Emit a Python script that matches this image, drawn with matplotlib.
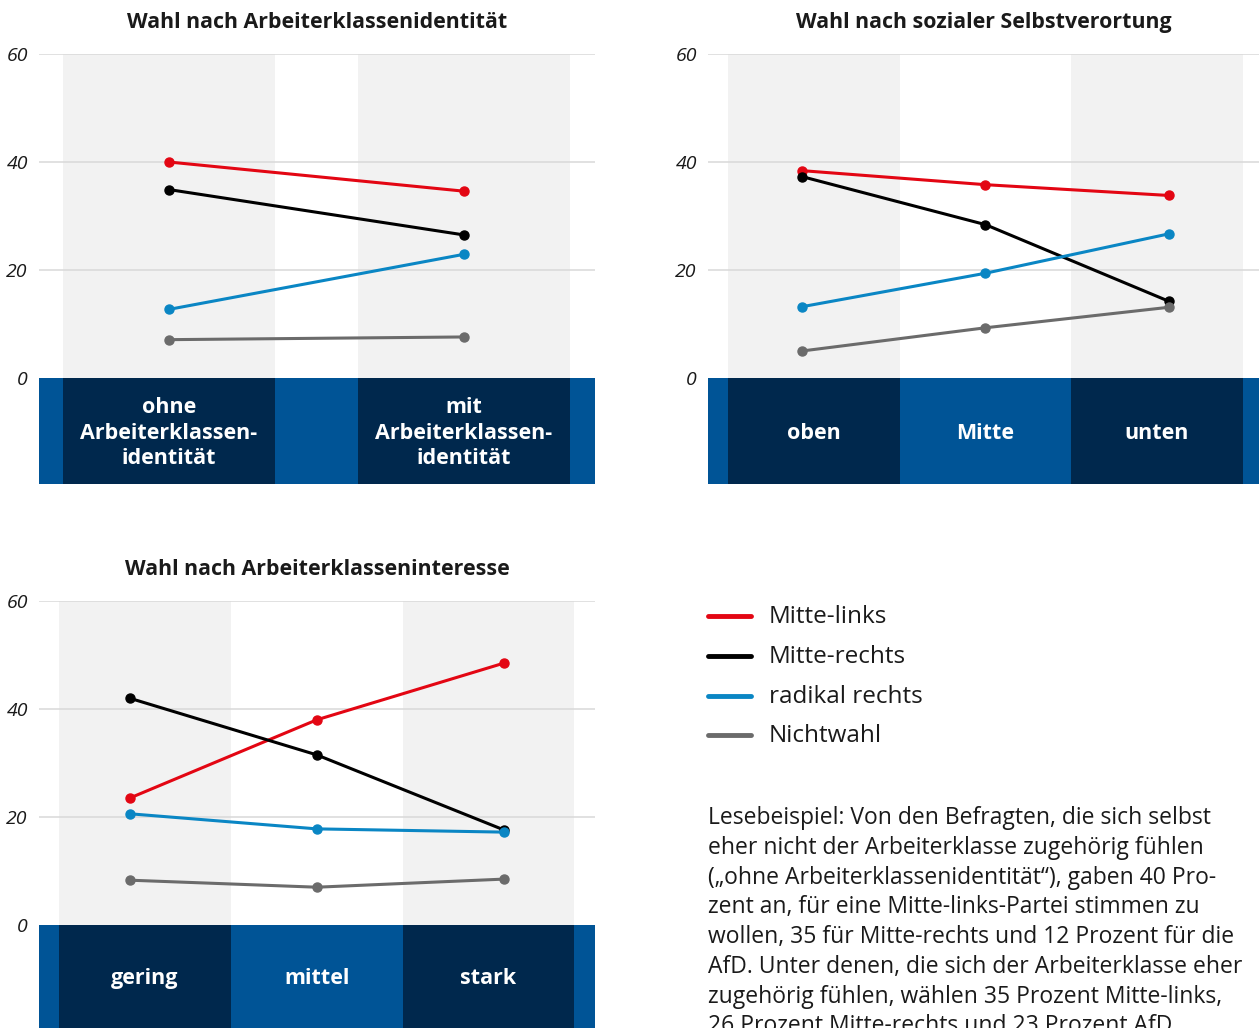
import matplotlib
matplotlib.use("Agg")
import matplotlib.pyplot as plt

plt.rcParams['font.family'] = ['Open Sans', 'DejaVu Sans']

W, H = 1259, 1028

# colours
RED = '#e30613'
BLACK = '#000000'
BLUE = '#0a86c4'
GREY = '#6b6b6b'
NAVY = '#00284d'
MIDBLUE = '#005496'
COLGREY = '#f2f2f2'
GRID = '#d9d9d9'
TEXT = '#1a1a1a'

series_names = ['Mitte-links', 'Mitte-rechts', 'radikal rechts', 'Nichtwahl']
series_colors = [RED, BLACK, BLUE, GREY]

# panel 1: Arbeiterklassenidentitaet
p1_title = 'Wahl nach Arbeiterklassenidentität'
p1_cats = ['ohne\nArbeiterklassen-\nidentität', 'mit\nArbeiterklassen-\nidentität']
p1_mitte_links = [40.0, 34.6]
p1_mitte_rechts = [34.9, 26.5]
p1_radikal_rechts = [12.7, 22.9]
p1_nichtwahl = [7.1, 7.6]

# panel 2: soziale Selbstverortung
p2_title = 'Wahl nach sozialer Selbstverortung'
p2_cats = ['oben', 'Mitte', 'unten']
p2_mitte_links = [38.4, 35.8, 33.8]
p2_mitte_rechts = [37.3, 28.4, 14.2]
p2_radikal_rechts = [13.2, 19.4, 26.7]
p2_nichtwahl = [5.0, 9.3, 13.1]

# panel 3: Arbeiterklasseninteresse
p3_title = 'Wahl nach Arbeiterklasseninteresse'
p3_cats = ['gering', 'mittel', 'stark']
p3_mitte_links = [23.5, 38.0, 48.5]
p3_mitte_rechts = [42.0, 31.5, 17.6]
p3_radikal_rechts = [20.6, 17.8, 17.2]
p3_nichtwahl = [8.3, 7.0, 8.5]

yticks = [0, 20, 40, 60]

note = ("Lesebeispiel: Von den Befragten, die sich selbst\n"
        "eher nicht der Arbeiterklasse zugehörig fühlen\n"
        "(„ohne Arbeiterklassenidentität“), gaben 40 Pro-\n"
        "zent an, für eine Mitte-links-Partei stimmen zu\n"
        "wollen, 35 für Mitte-rechts und 12 Prozent für die\n"
        "AfD. Unter denen, die sich der Arbeiterklasse eher\n"
        "zugehörig fühlen, wählen 35 Prozent Mitte-links,\n"
        "26 Prozent Mitte-rechts und 23 Prozent AfD.")

fig = plt.figure(figsize=(W / 100, H / 100), dpi=100)


def px_axes(x0, y0, x1, y1):
    return fig.add_axes([x0 / W, 1 - y1 / H, (x1 - x0) / W, (y1 - y0) / H])


def draw_panel(ax, title, cats, dark_idx, colw, xlim, ybottom, values, spread):
    xpos = list(range(len(cats)))
    mid = (len(cats) - 1) / 2
    # the lines are spread a little wider than the category columns
    xline = [mid + (x - mid) * spread for x in xpos]
    ax.set_xlim(*xlim)
    ax.set_ylim(ybottom, 60)
    # blue band below zero
    ax.axhspan(ybottom, 0, color=MIDBLUE, lw=0, zorder=0)
    for i in dark_idx:
        ax.bar(xpos[i], 60, width=colw, bottom=0, color=COLGREY, lw=0, zorder=0.5)
        ax.bar(xpos[i], -ybottom, width=colw, bottom=ybottom, color=NAVY, lw=0, zorder=0.6)
    for y in yticks[1:]:
        ax.axhline(y, color=GRID, lw=1.1, zorder=1)
    for vals, c in zip(values, series_colors):
        ax.plot(xline, vals, color=c, lw=2.2, marker='o', ms=6.5, zorder=3,
                solid_capstyle='round')
    for x, lab in zip(xpos, cats):
        ax.text(x, ybottom / 2 - 0.4, lab, color='white', fontsize=15.5,
                fontweight='bold', ha='center', va='center',
                linespacing=1.3, zorder=4)
    ax.set_yticks(yticks)
    ax.set_yticklabels([str(t) for t in yticks], fontsize=14,
                       fontstyle='italic', color=TEXT)
    ax.tick_params(axis='y', length=0, pad=8)
    ax.set_xticks([])
    for s in ax.spines.values():
        s.set_visible(False)
    ax.set_title(title, fontsize=15.4, fontweight='bold', color=TEXT, pad=19)


# panel 1
ax1 = px_axes(39, 54, 595, 484)
draw_panel(ax1, p1_title, p1_cats, [0, 1], 0.72, (-0.44, 1.445), -106 / 5.4,
           [p1_mitte_links, p1_mitte_rechts, p1_radikal_rechts, p1_nichtwahl],
           1.0)

# panel 2
ax2 = px_axes(708, 54, 1259, 484)
draw_panel(ax2, p2_title, p2_cats, [0, 2], 1.0, (-0.618, 2.595), -106 / 5.4,
           [p2_mitte_links, p2_mitte_rechts, p2_radikal_rechts, p2_nichtwahl],
           1.07)

# panel 3
ax3 = px_axes(39, 601, 595, 1028)
draw_panel(ax3, p3_title, p3_cats, [0, 2], 1.0, (-0.618, 2.62), -103 / 5.4,
           [p3_mitte_links, p3_mitte_rechts, p3_radikal_rechts, p3_nichtwahl],
           1.09)

# legend
ly = [617, 657, 697, 736]
for name, c, y in zip(series_names, series_colors, ly):
    fig.add_artist(plt.Line2D([708 / W, 751 / W], [1 - (y - 1) / H, 1 - (y - 1) / H],
                              color=c, lw=3.5, solid_capstyle='round'))
    fig.text(769 / W, 1 - y / H, name, fontsize=17.5, color=TEXT,
             ha='left', va='center')

fig.text(708 / W, 1 - 806 / H, note, fontsize=16.5, color=TEXT, ha='left',
         va='top', linespacing=1.32)

fig.savefig('out.png', dpi=100)
